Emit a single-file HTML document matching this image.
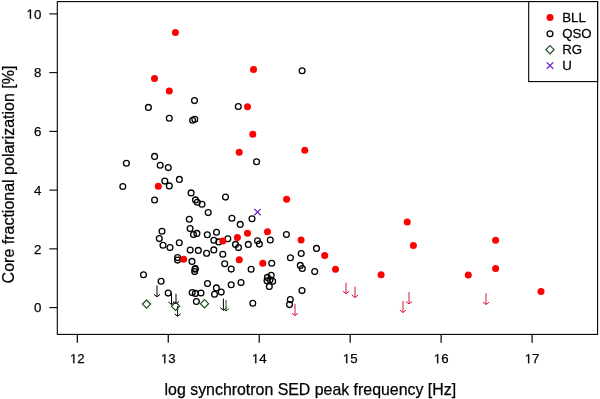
<!DOCTYPE html>
<html><head><meta charset="utf-8"><title>Core fractional polarization vs synchrotron peak</title>
<style>
html,body{margin:0;padding:0;background:#fff;width:600px;height:399px;overflow:hidden}
svg{display:block}
text{font-family:"Liberation Sans",sans-serif;fill:#000}
.tx{opacity:0.999}
.tx text{stroke:#000;stroke-width:0.25px}
.tx path{fill:#000;stroke:#000}
.t{font-size:13.3px}
.l{font-size:15.9px}
.ly{font-size:16px}
.g{font-size:12.4px}
</style></head>
<body>
<svg width="600" height="399" viewBox="0 0 600 399">
<rect x="57.3" y="1.6" width="540.3" height="332.8" fill="none" stroke="#000" stroke-width="1.1"/>
<line x1="49.3" y1="307.6" x2="57.3" y2="307.6" stroke="#000" stroke-width="1.1"/>
<line x1="49.3" y1="248.86" x2="57.3" y2="248.86" stroke="#000" stroke-width="1.1"/>
<line x1="49.3" y1="190.12" x2="57.3" y2="190.12" stroke="#000" stroke-width="1.1"/>
<line x1="49.3" y1="131.38" x2="57.3" y2="131.38" stroke="#000" stroke-width="1.1"/>
<line x1="49.3" y1="72.64" x2="57.3" y2="72.64" stroke="#000" stroke-width="1.1"/>
<line x1="49.3" y1="13.9" x2="57.3" y2="13.9" stroke="#000" stroke-width="1.1"/>
<line x1="77.3" y1="334.4" x2="77.3" y2="342.8" stroke="#000" stroke-width="1.2"/>
<line x1="168.26" y1="334.4" x2="168.26" y2="342.8" stroke="#000" stroke-width="1.2"/>
<line x1="259.22" y1="334.4" x2="259.22" y2="342.8" stroke="#000" stroke-width="1.2"/>
<line x1="350.18" y1="334.4" x2="350.18" y2="342.8" stroke="#000" stroke-width="1.2"/>
<line x1="441.14" y1="334.4" x2="441.14" y2="342.8" stroke="#000" stroke-width="1.2"/>
<line x1="532.1" y1="334.4" x2="532.1" y2="342.8" stroke="#000" stroke-width="1.2"/>
<path d="M157 285.4V296.8M153.93 294.4L157 296.8L160.07 294.4" fill="none" stroke="#000" stroke-width="1"/>
<path d="M171.5 292.9V304.5M168.43 302.1L171.5 304.5L174.57 302.1" fill="none" stroke="#000" stroke-width="1"/>
<path d="M176 293.8V303.9M172.93 301.5L176 303.9L179.07 301.5" fill="none" stroke="#000" stroke-width="1"/>
<path d="M177.6 306V316.2M174.53 313.8L177.6 316.2L180.67 313.8" fill="none" stroke="#000" stroke-width="1"/>
<path d="M223.4 298.6V310.2M220.33 307.8L223.4 310.2L226.47 307.8" fill="none" stroke="#000" stroke-width="1"/>
<path d="M226 299.9V311M222.93 308.6L226 311L229.07 308.6" fill="none" stroke="#1c4a1c" stroke-width="1"/>
<path d="M295 303.8V315.6M291.93 313.2L295 315.6L298.07 313.2" fill="none" stroke="#d8143c" stroke-width="1"/>
<path d="M346 282.5V293.7M342.93 291.3L346 293.7L349.07 291.3" fill="none" stroke="#d8143c" stroke-width="1"/>
<path d="M355 286.5V297.5M351.93 295.1L355 297.5L358.07 295.1" fill="none" stroke="#d8143c" stroke-width="1"/>
<path d="M409 292.2V303.9M405.93 301.5L409 303.9L412.07 301.5" fill="none" stroke="#d8143c" stroke-width="1"/>
<path d="M403 300.9V312.5M399.93 310.1L403 312.5L406.07 310.1" fill="none" stroke="#d8143c" stroke-width="1"/>
<path d="M486 293.2V304.5M482.93 302.1L486 304.5L489.07 302.1" fill="none" stroke="#d8143c" stroke-width="1"/>
<circle cx="302.1" cy="70.7" r="2.9" fill="none" stroke="#000" stroke-width="1.3"/>
<circle cx="194.5" cy="100.6" r="2.9" fill="none" stroke="#000" stroke-width="1.3"/>
<circle cx="148.4" cy="107.4" r="2.9" fill="none" stroke="#000" stroke-width="1.3"/>
<circle cx="169.3" cy="118.2" r="2.9" fill="none" stroke="#000" stroke-width="1.3"/>
<circle cx="192.6" cy="120.3" r="2.9" fill="none" stroke="#000" stroke-width="1.3"/>
<circle cx="194.8" cy="119.2" r="2.9" fill="none" stroke="#000" stroke-width="1.3"/>
<circle cx="238.3" cy="106.5" r="2.9" fill="none" stroke="#000" stroke-width="1.3"/>
<circle cx="154.6" cy="156.4" r="2.9" fill="none" stroke="#000" stroke-width="1.3"/>
<circle cx="126.4" cy="163.3" r="2.9" fill="none" stroke="#000" stroke-width="1.3"/>
<circle cx="160.2" cy="165.3" r="2.9" fill="none" stroke="#000" stroke-width="1.3"/>
<circle cx="168.3" cy="167.6" r="2.9" fill="none" stroke="#000" stroke-width="1.3"/>
<circle cx="256.6" cy="161.7" r="2.9" fill="none" stroke="#000" stroke-width="1.3"/>
<circle cx="179.4" cy="179.4" r="2.9" fill="none" stroke="#000" stroke-width="1.3"/>
<circle cx="164.8" cy="181.1" r="2.9" fill="none" stroke="#000" stroke-width="1.3"/>
<circle cx="169.3" cy="185.9" r="2.9" fill="none" stroke="#000" stroke-width="1.3"/>
<circle cx="122.8" cy="186.5" r="2.9" fill="none" stroke="#000" stroke-width="1.3"/>
<circle cx="191.1" cy="192.9" r="2.9" fill="none" stroke="#000" stroke-width="1.3"/>
<circle cx="154.6" cy="200" r="2.9" fill="none" stroke="#000" stroke-width="1.3"/>
<circle cx="195.5" cy="199.9" r="2.9" fill="none" stroke="#000" stroke-width="1.3"/>
<circle cx="197.3" cy="202.3" r="2.9" fill="none" stroke="#000" stroke-width="1.3"/>
<circle cx="202" cy="204.2" r="2.9" fill="none" stroke="#000" stroke-width="1.3"/>
<circle cx="225.5" cy="197.1" r="2.9" fill="none" stroke="#000" stroke-width="1.3"/>
<circle cx="208.2" cy="212.6" r="2.9" fill="none" stroke="#000" stroke-width="1.3"/>
<circle cx="189.3" cy="219.3" r="2.9" fill="none" stroke="#000" stroke-width="1.3"/>
<circle cx="190.1" cy="228.6" r="2.9" fill="none" stroke="#000" stroke-width="1.3"/>
<circle cx="193.5" cy="234.5" r="2.9" fill="none" stroke="#000" stroke-width="1.3"/>
<circle cx="196.9" cy="233.4" r="2.9" fill="none" stroke="#000" stroke-width="1.3"/>
<circle cx="207.3" cy="234.8" r="2.9" fill="none" stroke="#000" stroke-width="1.3"/>
<circle cx="216.5" cy="232.2" r="2.9" fill="none" stroke="#000" stroke-width="1.3"/>
<circle cx="231.9" cy="218.3" r="2.9" fill="none" stroke="#000" stroke-width="1.3"/>
<circle cx="240.2" cy="224.4" r="2.9" fill="none" stroke="#000" stroke-width="1.3"/>
<circle cx="252" cy="218.7" r="2.9" fill="none" stroke="#000" stroke-width="1.3"/>
<circle cx="162" cy="231.2" r="2.9" fill="none" stroke="#000" stroke-width="1.3"/>
<circle cx="159.3" cy="238.6" r="2.9" fill="none" stroke="#000" stroke-width="1.3"/>
<circle cx="163" cy="245.3" r="2.9" fill="none" stroke="#000" stroke-width="1.3"/>
<circle cx="170" cy="247.6" r="2.9" fill="none" stroke="#000" stroke-width="1.3"/>
<circle cx="179.3" cy="242.7" r="2.9" fill="none" stroke="#000" stroke-width="1.3"/>
<circle cx="190.2" cy="250.1" r="2.9" fill="none" stroke="#000" stroke-width="1.3"/>
<circle cx="198.3" cy="250.4" r="2.9" fill="none" stroke="#000" stroke-width="1.3"/>
<circle cx="206.6" cy="253.3" r="2.9" fill="none" stroke="#000" stroke-width="1.3"/>
<circle cx="213.8" cy="249.9" r="2.9" fill="none" stroke="#000" stroke-width="1.3"/>
<circle cx="213.8" cy="240.2" r="2.9" fill="none" stroke="#000" stroke-width="1.3"/>
<circle cx="218.8" cy="241.9" r="2.9" fill="none" stroke="#000" stroke-width="1.3"/>
<circle cx="227.8" cy="238.7" r="2.9" fill="none" stroke="#000" stroke-width="1.3"/>
<circle cx="222.8" cy="254.2" r="2.9" fill="none" stroke="#000" stroke-width="1.3"/>
<circle cx="235.5" cy="244.4" r="2.9" fill="none" stroke="#000" stroke-width="1.3"/>
<circle cx="238.5" cy="247.6" r="2.9" fill="none" stroke="#000" stroke-width="1.3"/>
<circle cx="248.3" cy="244.4" r="2.9" fill="none" stroke="#000" stroke-width="1.3"/>
<circle cx="257.5" cy="240.8" r="2.9" fill="none" stroke="#000" stroke-width="1.3"/>
<circle cx="259.4" cy="244.1" r="2.9" fill="none" stroke="#000" stroke-width="1.3"/>
<circle cx="270.3" cy="240" r="2.9" fill="none" stroke="#000" stroke-width="1.3"/>
<circle cx="286.4" cy="234.5" r="2.9" fill="none" stroke="#000" stroke-width="1.3"/>
<circle cx="316.5" cy="248.4" r="2.9" fill="none" stroke="#000" stroke-width="1.3"/>
<circle cx="301.2" cy="253.5" r="2.9" fill="none" stroke="#000" stroke-width="1.3"/>
<circle cx="290.4" cy="257.7" r="2.9" fill="none" stroke="#000" stroke-width="1.3"/>
<circle cx="300.3" cy="265.4" r="2.9" fill="none" stroke="#000" stroke-width="1.3"/>
<circle cx="302.3" cy="268.5" r="2.9" fill="none" stroke="#000" stroke-width="1.3"/>
<circle cx="314.7" cy="271.6" r="2.9" fill="none" stroke="#000" stroke-width="1.3"/>
<circle cx="271.8" cy="263.3" r="2.9" fill="none" stroke="#000" stroke-width="1.3"/>
<circle cx="251.1" cy="269.3" r="2.9" fill="none" stroke="#000" stroke-width="1.3"/>
<circle cx="231.2" cy="269.1" r="2.9" fill="none" stroke="#000" stroke-width="1.3"/>
<circle cx="224.7" cy="263.8" r="2.9" fill="none" stroke="#000" stroke-width="1.3"/>
<circle cx="192" cy="261.4" r="2.9" fill="none" stroke="#000" stroke-width="1.3"/>
<circle cx="195.3" cy="268.5" r="2.9" fill="none" stroke="#000" stroke-width="1.3"/>
<circle cx="194.7" cy="271.6" r="2.9" fill="none" stroke="#000" stroke-width="1.3"/>
<circle cx="195" cy="269.3" r="2.9" fill="none" stroke="#000" stroke-width="1.3"/>
<circle cx="177.6" cy="257.6" r="2.9" fill="none" stroke="#000" stroke-width="1.3"/>
<circle cx="177.6" cy="260.1" r="2.9" fill="none" stroke="#000" stroke-width="1.3"/>
<circle cx="271.2" cy="275.2" r="2.9" fill="none" stroke="#000" stroke-width="1.3"/>
<circle cx="267.4" cy="277.4" r="2.9" fill="none" stroke="#000" stroke-width="1.3"/>
<circle cx="267" cy="280.8" r="2.9" fill="none" stroke="#000" stroke-width="1.3"/>
<circle cx="272.7" cy="281.2" r="2.9" fill="none" stroke="#000" stroke-width="1.3"/>
<circle cx="269.3" cy="286.4" r="2.9" fill="none" stroke="#000" stroke-width="1.3"/>
<circle cx="270" cy="279.7" r="2.9" fill="none" stroke="#000" stroke-width="1.3"/>
<circle cx="241" cy="282.6" r="2.9" fill="none" stroke="#000" stroke-width="1.3"/>
<circle cx="231.2" cy="284.8" r="2.9" fill="none" stroke="#000" stroke-width="1.3"/>
<circle cx="207.5" cy="283.5" r="2.9" fill="none" stroke="#000" stroke-width="1.3"/>
<circle cx="216.4" cy="287.9" r="2.9" fill="none" stroke="#000" stroke-width="1.3"/>
<circle cx="221.2" cy="292.1" r="2.9" fill="none" stroke="#000" stroke-width="1.3"/>
<circle cx="214.5" cy="294.2" r="2.9" fill="none" stroke="#000" stroke-width="1.3"/>
<circle cx="192.2" cy="292.6" r="2.9" fill="none" stroke="#000" stroke-width="1.3"/>
<circle cx="195.4" cy="293.4" r="2.9" fill="none" stroke="#000" stroke-width="1.3"/>
<circle cx="201" cy="293" r="2.9" fill="none" stroke="#000" stroke-width="1.3"/>
<circle cx="196.4" cy="301.5" r="2.9" fill="none" stroke="#000" stroke-width="1.3"/>
<circle cx="143.5" cy="274.7" r="2.9" fill="none" stroke="#000" stroke-width="1.3"/>
<circle cx="161.1" cy="281.3" r="2.9" fill="none" stroke="#000" stroke-width="1.3"/>
<circle cx="168.2" cy="293.1" r="2.9" fill="none" stroke="#000" stroke-width="1.3"/>
<circle cx="252.8" cy="303.2" r="2.9" fill="none" stroke="#000" stroke-width="1.3"/>
<circle cx="290.3" cy="299.6" r="2.9" fill="none" stroke="#000" stroke-width="1.3"/>
<circle cx="289.5" cy="304.6" r="2.9" fill="none" stroke="#000" stroke-width="1.3"/>
<circle cx="302" cy="290.6" r="2.9" fill="none" stroke="#000" stroke-width="1.3"/>
<circle cx="175.4" cy="32.6" r="3.5" fill="#f00"/>
<circle cx="154.5" cy="78.5" r="3.5" fill="#f00"/>
<circle cx="169.3" cy="91.1" r="3.5" fill="#f00"/>
<circle cx="253.5" cy="69.5" r="3.5" fill="#f00"/>
<circle cx="247.5" cy="106.8" r="3.5" fill="#f00"/>
<circle cx="252.8" cy="134.2" r="3.5" fill="#f00"/>
<circle cx="239.2" cy="152.3" r="3.5" fill="#f00"/>
<circle cx="304.8" cy="150.2" r="3.5" fill="#f00"/>
<circle cx="158.3" cy="186.3" r="3.5" fill="#f00"/>
<circle cx="286.6" cy="199.3" r="3.5" fill="#f00"/>
<circle cx="247.5" cy="233.2" r="3.5" fill="#f00"/>
<circle cx="237.4" cy="237.4" r="3.5" fill="#f00"/>
<circle cx="222.8" cy="241" r="3.5" fill="#f00"/>
<circle cx="267.5" cy="231.7" r="3.5" fill="#f00"/>
<circle cx="301.1" cy="240.1" r="3.5" fill="#f00"/>
<circle cx="324.7" cy="255.5" r="3.5" fill="#f00"/>
<circle cx="335.5" cy="269.2" r="3.5" fill="#f00"/>
<circle cx="183.6" cy="259.3" r="3.5" fill="#f00"/>
<circle cx="239.3" cy="259.8" r="3.5" fill="#f00"/>
<circle cx="262.8" cy="263.3" r="3.5" fill="#f00"/>
<circle cx="407.2" cy="222.1" r="3.5" fill="#f00"/>
<circle cx="413.4" cy="245.4" r="3.5" fill="#f00"/>
<circle cx="381.1" cy="274.7" r="3.5" fill="#f00"/>
<circle cx="495.6" cy="240.3" r="3.5" fill="#f00"/>
<circle cx="495.6" cy="268.4" r="3.5" fill="#f00"/>
<circle cx="468.3" cy="275.1" r="3.5" fill="#f00"/>
<circle cx="541" cy="291.4" r="3.5" fill="#f00"/>
<path d="M146.5 300L150.6 304.1L146.5 308.2L142.4 304.1Z" fill="none" stroke="#1c4a1c" stroke-width="1.2"/>
<path d="M175.6 302.2L179.7 306.3L175.6 310.4L171.5 306.3Z" fill="none" stroke="#1c4a1c" stroke-width="1.2"/>
<path d="M204.5 299.6L208.6 303.7L204.5 307.8L200.4 303.7Z" fill="none" stroke="#1c4a1c" stroke-width="1.2"/>
<path d="M254.3 208.9L260.7 215.3M254.3 215.3L260.7 208.9" stroke="#6c22c4" stroke-width="1.3"/>
<rect x="528.7" y="1.6" width="68.9" height="80" fill="#fff" stroke="#000" stroke-width="1.1"/>
<circle cx="550" cy="17.5" r="3.5" fill="#f00"/>
<circle cx="550" cy="33.7" r="2.9" fill="none" stroke="#000" stroke-width="1.3"/>
<path d="M550 45.6L554.1 49.7L550 53.8L545.9 49.7Z" fill="none" stroke="#1c4a1c" stroke-width="1.2"/>
<path d="M546.8 62.4L553.2 68.8M546.8 68.8L553.2 62.4" stroke="#6c22c4" stroke-width="1.3"/>
<g class="tx">
<text x="33.9" y="312.4" class="t">0</text>
<text x="33.9" y="253.66" class="t">2</text>
<text x="33.9" y="194.92" class="t">4</text>
<text x="33.9" y="136.18" class="t">6</text>
<text x="33.9" y="77.44" class="t">8</text>
<path transform="translate(26.51,18.7) scale(0.006494,-0.006494)" d="M696 0L515 0L515 1237L197 1010L197 1180L530 1409L696 1409Z" stroke-width="38.50"/>
<text x="33.9" y="18.7" class="t">0</text>
<path transform="translate(69.9,363.3) scale(0.006494,-0.006494)" d="M696 0L515 0L515 1237L197 1010L197 1180L530 1409L696 1409Z" stroke-width="38.50"/>
<text x="77.3" y="363.3" class="t">2</text>
<path transform="translate(160.86,363.3) scale(0.006494,-0.006494)" d="M696 0L515 0L515 1237L197 1010L197 1180L530 1409L696 1409Z" stroke-width="38.50"/>
<text x="168.26" y="363.3" class="t">3</text>
<path transform="translate(251.82,363.3) scale(0.006494,-0.006494)" d="M696 0L515 0L515 1237L197 1010L197 1180L530 1409L696 1409Z" stroke-width="38.50"/>
<text x="259.22" y="363.3" class="t">4</text>
<path transform="translate(342.78,363.3) scale(0.006494,-0.006494)" d="M696 0L515 0L515 1237L197 1010L197 1180L530 1409L696 1409Z" stroke-width="38.50"/>
<text x="350.18" y="363.3" class="t">5</text>
<path transform="translate(433.74,363.3) scale(0.006494,-0.006494)" d="M696 0L515 0L515 1237L197 1010L197 1180L530 1409L696 1409Z" stroke-width="38.50"/>
<text x="441.14" y="363.3" class="t">6</text>
<path transform="translate(524.7,363.3) scale(0.006494,-0.006494)" d="M696 0L515 0L515 1237L197 1010L197 1180L530 1409L696 1409Z" stroke-width="38.50"/>
<text x="532.1" y="363.3" class="t">7</text>
<text x="164.6" y="395.3" class="l">log synchrotron SED peak frequency [Hz]</text>
<text transform="translate(13.9,283.4) rotate(-90)" class="ly">Core fractional polarization [%]</text>
<text transform="translate(562.2,21.9) scale(1.07,1)" class="g">BLL</text>
<text transform="translate(562.2,38.1) scale(1.07,1)" class="g">QSO</text>
<text transform="translate(562.2,54.1) scale(1.07,1)" class="g">RG</text>
<text transform="translate(562.2,70) scale(1.07,1)" class="g">U</text>
</g>
</svg>
</body></html>
